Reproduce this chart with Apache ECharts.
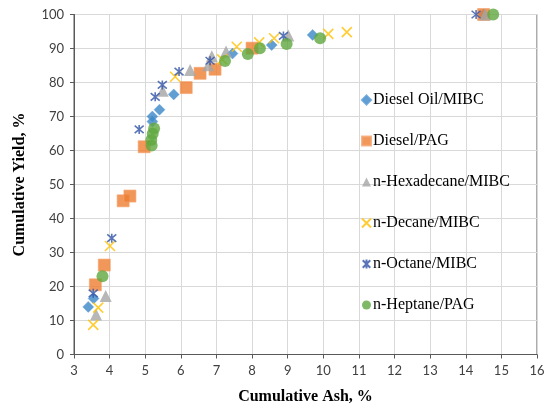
<!DOCTYPE html>
<html>
<head>
<meta charset="utf-8">
<script src="https://cdn.jsdelivr.net/npm/echarts@6/dist/echarts.min.js"></script>
<style>
  html, body { margin: 0; padding: 0; background: #ffffff; }
  #chart { width: 556px; height: 412px; }
</style>
</head>
<body>
<div id="chart"></div>
<script>
// Cumulative ash (x) vs cumulative yield (y), one list per collector/frother system
const dieselOilMIBC = [[3.4,14],[3.55,16.5],[5.2,68.5],[5.2,70],[5.4,72],[5.8,76.5],[7.45,88.5],[8.55,91],[9.7,94],[14.5,100]];
const dieselPAG = [[3.6,20.5],[3.85,26.3],[4.38,45.2],[4.57,46.6],[4.97,61.1],[6.15,78.5],[6.54,82.7],[6.96,83.9],[8.0,90.1],[14.5,100]];
const hexadecaneMIBC = [[3.62,11.8],[3.89,17.2],[5.49,77.6],[6.26,83.7],[6.77,85.1],[6.87,87.7],[7.27,89.1],[9.02,93.8],[14.55,100]];
const decaneMIBC = [[3.54,8.7],[3.68,13.8],[4.01,31.9],[5.84,81.7],[7.16,86.8],[7.57,90.5],[8.2,91.8],[8.62,93],[10.14,94.3],[10.66,94.8]];
const octaneMIBC = [[3.54,18],[4.06,34.2],[4.83,66.2],[5.28,75.8],[5.48,79.3],[5.95,83.2],[6.82,86.4],[8.88,93.7],[14.29,100]];
const heptanePAG = [[3.8,23],[5.18,61.5],[5.17,63.1],[5.21,64.9],[5.25,66.5],[7.24,86.3],[7.88,88.4],[8.22,90.1],[8.97,91.3],[9.91,93],[14.77,100]];

const seriesNames = ['Diesel Oil/MIBC', 'Diesel/PAG', 'n-Hexadecane/MIBC', 'n-Decane/MIBC', 'n-Octane/MIBC', 'n-Heptane/PAG'];

const xTitle = 'Cumulative Ash, %';
const yTitle = 'Cumulative Yield, %';

const crossPath = 'path://M0,0 L10,10 M10,0 L0,10';
const starPath = 'path://M0,0 L10,10 M10,0 L0,10 M5,-1 L5,11';

const chart = echarts.init(document.getElementById('chart'), null, { renderer: 'canvas' });

const tickFont = { fontFamily: 'Lato, "Open Sans", sans-serif', fontSize: 13, color: '#404040' };
const titleFont = { fontFamily: '"Liberation Serif", "Times New Roman", serif', fontSize: 16, fontWeight: 'bold', color: '#000000' };

chart.setOption({
  animation: false,
  backgroundColor: '#ffffff',
  grid: {
    left: 74, right: 19, top: 14.5, bottom: 57.5,
    show: true, borderColor: '#595959', borderWidth: 1, backgroundColor: 'transparent'
  },
  xAxis: {
    type: 'value', min: 3, max: 16, interval: 1,
    name: xTitle, nameLocation: 'middle', nameGap: 34, nameTextStyle: titleFont,
    axisLine: { show: true, lineStyle: { color: '#595959', width: 1 } },
    axisTick: { show: true, length: 4, lineStyle: { color: '#595959' } },
    axisLabel: Object.assign({ margin: 10 }, tickFont),
    splitLine: { show: true, lineStyle: { color: '#d9d9d9', width: 1 } }
  },
  yAxis: {
    type: 'value', min: 0, max: 100, interval: 10,
    name: yTitle, nameLocation: 'middle', nameGap: 46, nameRotate: 90, nameTextStyle: titleFont,
    axisLine: { show: true, lineStyle: { color: '#595959', width: 1 } },
    axisTick: { show: true, length: 4, lineStyle: { color: '#595959' } },
    axisLabel: Object.assign({ margin: 10 }, tickFont),
    splitLine: { show: true, lineStyle: { color: '#d9d9d9', width: 1 } }
  },
  legend: {
    orient: 'vertical', left: 356, top: 87,
    itemWidth: 9, itemHeight: 9, itemGap: 25,
    textStyle: { fontFamily: '"Liberation Serif", "Times New Roman", serif', fontSize: 16, color: '#000000', padding: [0, 0, 0, -3] },
    data: seriesNames
  },
  series: [
    {
      name: seriesNames[0], type: 'scatter', data: dieselOilMIBC,
      symbol: 'diamond', symbolSize: 11,
      itemStyle: { color: '#3A87C8', borderColor: '#5B9BD5', borderWidth: 0.5 }
    },
    {
      name: seriesNames[1], type: 'scatter', data: dieselPAG,
      symbol: 'rect', symbolSize: 12,
      itemStyle: { color: '#ED7D31', borderColor: '#F4A46E', borderWidth: 0.8 }
    },
    {
      name: seriesNames[2], type: 'scatter', data: hexadecaneMIBC,
      symbol: 'triangle', symbolSize: 12,
      itemStyle: { color: '#A5A5A5' }
    },
    {
      name: seriesNames[3], type: 'scatter', data: decaneMIBC,
      symbol: crossPath, symbolSize: 10,
      itemStyle: { color: 'rgba(0,0,0,0)', borderColor: '#FFC000', borderWidth: 1.6 }
    },
    {
      name: seriesNames[4], type: 'scatter', data: octaneMIBC,
      symbol: starPath, symbolSize: 9,
      itemStyle: { color: 'rgba(0,0,0,0)', borderColor: '#2F52A6', borderWidth: 1.6 }
    },
    {
      name: seriesNames[5], type: 'scatter', data: heptanePAG,
      symbol: 'circle', symbolSize: 12,
      itemStyle: { color: '#5FA83E' }
    }
  ]
});
</script>
</body>
</html>
